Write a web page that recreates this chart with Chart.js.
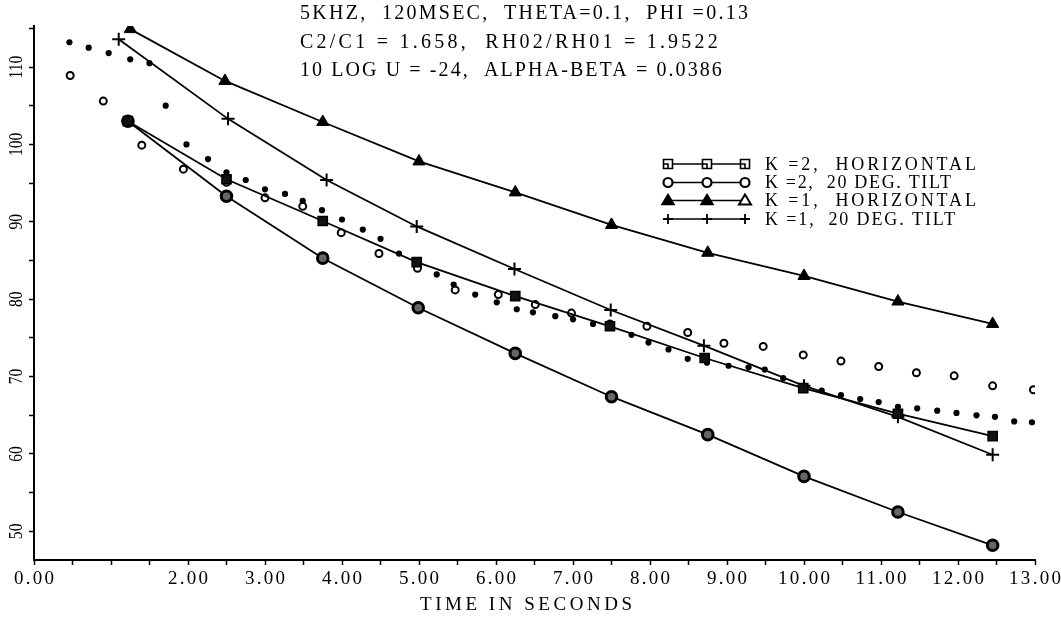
<!DOCTYPE html>
<html><head><meta charset="utf-8">
<script src="https://cdn.jsdelivr.net/npm/chart.js@4/dist/chart.umd.min.js"></script>
<style>html,body{margin:0;padding:0;background:#fff;}canvas{display:block}</style>
</head><body>
<canvas id="c" width="1061" height="622"></canvas>
<script>
// ---- text ----
const titleLines = ['5KHZ,  120MSEC,  THETA=0.1,  PHI =0.13',
                    'C2/C1 = 1.658,  RH02/RH01 = 1.9522',
                    '10 LOG U = -24,  ALPHA-BETA = 0.0386'];
const xTitle = 'TIME IN SECONDS';

// ---- ticks ----
const xTickValues = [0,0.5,1,1.5,2,2.5,3,3.5,4,4.5,5,5.5,6,6.5,7,7.5,8,8.5,9,9.5,10,10.5,11,11.5,12,12.5,13];
const xLabelValues = [0,2,3,4,5,6,7,8,9,10,11,12,13];
const xLabelTexts = ['0.00','2.00','3.00','4.00','5.00','6.00','7.00','8.00','9.00','10.00','11.00','12.00','13.00'];
const yTickValues = [50,55,60,65,70,75,80,85,90,95,100,105,110,115];
const yLabelValues = [50,60,70,80,90,100,110];
const yLabelTexts = ['50','60','70','80','90','100','110'];

// ---- series (time in s, level) ----
const k2hLabel = 'K =2,  HORIZONTAL';
const k2hT = [1.22,2.50,3.75,4.97,6.25,7.48,8.71,9.99,11.22,12.45];
const k2hV = [103.0,95.5,90.1,84.8,80.4,76.5,72.4,68.5,65.2,62.3];

const k2tLabel = 'K =2,  20 DEG. TILT';
const k2tT = [1.22,2.50,3.75,4.99,6.25,7.50,8.75,10.0,11.22,12.45];
const k2tV = [103.0,93.3,85.3,78.9,73.0,67.4,62.5,57.1,52.5,48.2];

const k1hLabel = 'K =1,  HORIZONTAL';
const k1hT = [1.25,2.48,3.75,5.0,6.25,7.5,8.75,10.0,11.22,12.45];
const k1hV = [114.9,108.2,102.9,97.8,93.8,89.6,86.0,83.0,79.7,76.8];

const k1tLabel = 'K =1,  20 DEG. TILT';
const k1tT = [1.10,2.52,3.80,4.97,6.24,7.49,8.70,10.0,11.22,12.45];
const k1tV = [113.6,103.3,95.4,89.4,83.9,78.6,74.0,68.8,64.8,59.9];

const dotT = [0.46,0.71,0.97,1.25,1.50,1.71,1.98,2.26,2.50,2.75,3.00,3.26,3.49,3.74,4.00,4.27,4.50,4.74,5.23,5.45,5.73,6.01,6.27,6.48,6.77,7.00,7.26,7.76,7.98,8.24,8.49,8.74,9.02,9.28,9.49,9.73,10.23,10.48,10.73,10.97,11.22,11.47,11.73,11.98,12.24,12.48,12.73,12.96];
const dotV = [113.2,112.5,111.8,111.0,110.5,105.0,100.0,98.1,96.4,95.4,94.2,93.6,92.7,91.5,90.3,89.0,87.8,85.9,83.2,81.9,80.6,79.6,78.7,78.3,77.8,77.4,76.8,75.4,74.4,73.5,72.3,71.8,71.4,71.2,70.9,69.8,68.2,67.6,67.1,66.7,66.1,65.9,65.6,65.3,65.0,64.8,64.2,64.1];

const ringT = [0.47,0.90,1.40,1.94,2.50,3.00,3.49,3.99,4.48,4.98,5.47,6.03,6.51,6.98,7.48,7.96,8.49,8.96,9.47,9.99,10.48,10.97,11.46,11.95,12.45,12.98];
const ringV = [108.9,105.6,99.9,96.8,95.1,93.1,92.0,88.6,85.9,84.0,81.2,80.6,79.3,78.2,76.8,76.5,75.7,74.3,73.9,72.8,72.0,71.3,70.5,70.1,68.8,68.3];

const pts = (t, v) => t.map((x, i) => ({x: x, y: v[i]}));
const SERIF = '"Liberation Serif", "DejaVu Serif", serif';

const lineStyle = {showLine: true, borderColor: '#000', borderWidth: 1.8, pointBorderColor: '#000'};

const datasets = [
  Object.assign({label: k2hLabel, data: pts(k2hT, k2hV), pointStyle: 'rect', pointRadius: 6.5, pointBackgroundColor: '#111', pointBorderWidth: 1.5, legendMarks: ['rectOpen','rectOpen','rectOpen']}, lineStyle),
  Object.assign({label: k2tLabel, data: pts(k2tT, k2tV), pointStyle: 'circle', pointRadius: 5.3, pointBackgroundColor: '#666', pointBorderWidth: 3, legendMarks: ['circleOpen','circleOpen','circleOpen']}, lineStyle),
  Object.assign({label: k1hLabel, data: pts(k1hT, k1hV), pointStyle: 'triangle', pointRadius: 7, pointBackgroundColor: '#000', pointBorderWidth: 1, legendMarks: ['tri','tri','triOpen']}, lineStyle),
  Object.assign({label: k1tLabel, data: pts(k1tT, k1tV), pointStyle: 'cross', pointRadius: 6.5, pointBackgroundColor: '#000', pointBorderWidth: 2, legendMarks: ['cross','cross','cross']}, lineStyle),
  {label: 'dots', data: pts(dotT, dotV), showLine: false, pointStyle: 'circle', pointRadius: 3.1, pointBackgroundColor: '#000', pointBorderColor: '#000', pointBorderWidth: 0, inLegend: false},
  {label: 'rings', data: pts(ringT, ringV), showLine: false, pointStyle: 'circle', pointRadius: 3.5, pointBackgroundColor: '#fff', pointBorderColor: '#000', pointBorderWidth: 2, inLegend: false}
];

// draw text stretched (by letter spacing) to a target width
function fitText(ctx, text, x, y, targetW, align) {
  ctx.save();
  ctx.textAlign = 'left';
  const w0 = ctx.measureText(text).width;
  const left = align === 'center' ? x - targetW / 2 : x;
  if ('letterSpacing' in ctx) {
    const sp = (targetW - w0) / Math.max(1, text.length - 1);
    ctx.letterSpacing = sp.toFixed(2) + 'px';
    ctx.fillText(text, left, y);
  } else {
    ctx.translate(left, y); ctx.scale(targetW / w0, 1); ctx.fillText(text, 0, 0);
  }
  ctx.restore();
}

function mark(ctx, kind, x, y) {
  ctx.save();
  ctx.strokeStyle = '#000'; ctx.fillStyle = '#000'; ctx.lineWidth = 1.6;
  ctx.beginPath();
  if (kind === 'rectOpen') {
    ctx.fillStyle = '#fff'; ctx.rect(x - 4.5, y - 4.5, 9, 9); ctx.fill(); ctx.stroke();
    ctx.beginPath(); ctx.moveTo(x - 4.5, y); ctx.lineTo(x, y); ctx.lineTo(x, y + 4.5); ctx.stroke();
  } else if (kind === 'circleOpen') {
    ctx.fillStyle = '#fff'; ctx.lineWidth = 2.2; ctx.arc(x, y, 4.5, 0, Math.PI * 2); ctx.fill(); ctx.stroke();
  } else if (kind === 'tri' || kind === 'triOpen') {
    ctx.moveTo(x, y - 6); ctx.lineTo(x + 6, y + 4); ctx.lineTo(x - 6, y + 4); ctx.closePath();
    if (kind === 'triOpen') { ctx.fillStyle = '#fff'; ctx.lineWidth = 2; }
    ctx.fill(); ctx.stroke();
  } else if (kind === 'cross') {
    ctx.lineWidth = 1.8;
    ctx.moveTo(x - 5, y); ctx.lineTo(x + 5, y); ctx.moveTo(x, y - 5); ctx.lineTo(x, y + 5); ctx.stroke();
  }
  ctx.restore();
}

const decor = {
  id: 'decor',
  afterDraw(chart) {
    const ctx = chart.ctx;
    ctx.save();
    ctx.fillStyle = '#000';
    ctx.textBaseline = 'middle';
    // title block
    ctx.font = '20px ' + SERIF;
    const ty = [14, 43, 71];
    const tw = [448, 418, 422];
    titleLines.forEach((s, i) => fitText(ctx, s, 300, ty[i], tw[i], 'left'));
    // x tick labels
    const xs = chart.scales.x;
    ctx.font = '19px ' + SERIF;
    xLabelValues.forEach((v, i) => {
      const px = xs.getPixelForValue(v);
      const s = xLabelTexts[i];
      const w0 = ctx.measureText(s).width;
      fitText(ctx, s, px, 579, w0 + 2.3 * (s.length - 1), 'center');
    });
    // y labels (rotated, condensed)
    const ys = chart.scales.y;
    ctx.font = '19px ' + SERIF;
    yLabelValues.forEach((v, i) => {
      const py = ys.getPixelForValue(v);
      ctx.save(); ctx.translate(17, py); ctx.rotate(-Math.PI / 2); ctx.scale(0.82, 1);
      ctx.textAlign = 'center'; ctx.textBaseline = 'middle';
      ctx.fillText(yLabelTexts[i], 0, 0);
      ctx.restore();
    });
    // x axis title
    ctx.font = '19px ' + SERIF;
    fitText(ctx, xTitle, 526, 605, 212, 'center');
    // legend
    const rows = [164, 182.5, 200.5, 219];
    const mx = [668, 707, 745];
    const lw = [211, 186, 211, 190];
    ctx.font = '18px ' + SERIF;
    chart.data.datasets.filter(d => d.inLegend !== false).forEach((d, i) => {
      const y = rows[i];
      ctx.save(); ctx.strokeStyle = '#000'; ctx.lineWidth = 1.6;
      ctx.beginPath(); ctx.moveTo(mx[0], y); ctx.lineTo(mx[2], y); ctx.stroke(); ctx.restore();
      d.legendMarks.forEach((k, j) => mark(ctx, k, mx[j], y));
      fitText(ctx, d.label, 765, y + 1, lw[i], 'left');
    });
    ctx.restore();
  }
};

const tickGrid = {display: true, drawOnChartArea: false, drawTicks: true, tickLength: 5, tickColor: '#000', tickWidth: 1.5};

new Chart(document.getElementById('c'), {
  type: 'scatter',
  data: {datasets: datasets},
  options: {
    responsive: false,
    animation: false,
    devicePixelRatio: 1,
    layout: {padding: {left: 0, right: 26, top: 26, bottom: 0}},
    plugins: {legend: {display: false}, tooltip: {enabled: false}, title: {display: false}},
    scales: {
      x: {
        type: 'linear', min: 0, max: 13,
        afterBuildTicks: s => { s.ticks = xTickValues.map(v => ({value: v})); },
        afterFit: s => { s.height = 62; },
        ticks: {display: false},
        grid: tickGrid,
        border: {display: true, color: '#000', width: 2}
      },
      y: {
        type: 'linear', min: 46.3, max: 115.3,
        afterBuildTicks: s => { s.ticks = yTickValues.map(v => ({value: v})); },
        afterFit: s => { s.width = 34; },
        ticks: {display: false},
        grid: tickGrid,
        border: {display: true, color: '#000', width: 2}
      }
    }
  },
  plugins: [decor]
});
</script>
</body></html>
